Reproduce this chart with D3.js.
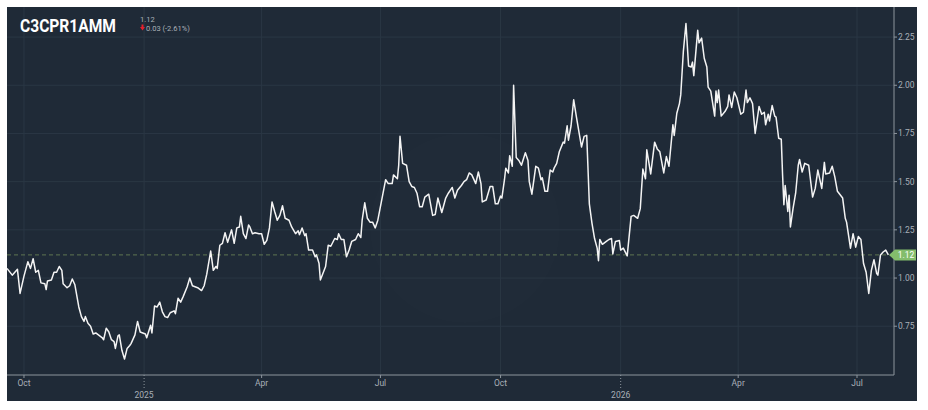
<!DOCTYPE html>
<html>
<head>
<meta charset="utf-8">
<script src="https://cdn.jsdelivr.net/npm/d3@7/dist/d3.min.js"></script>
<style>
html, body { margin: 0; padding: 0; background: #fff; }
svg { display: block; font-family: Roboto, "DejaVu Sans", sans-serif; }
</style>
</head>
<body>
<svg id="chart" width="928" height="410"></svg>
<script>
// series: day offset from startDate, and value
const startDate = new Date(2024, 8, 18);
const days = [
  0,4,6,8,10,13,16,18,20,22,24,26,29,30,31,34,36,38,40,42,43,46,48,50,52,55,57,59,60,62,64,66,68,70,73,74,76,78,80,82,83,85,86,88,90,92,94,95,98,100,102,104,106,107,110,111,113,115,117,119,121,123,125,128,129,131,133,135,138,140,142,144,146,149,151,153,154,
  156,158,160,161,163,165,167,169,172,174,176,178,179,181,183,185,186,188,190,193,195,197,199,201,203,205,207,209,211,213,216,218,221,223,224,226,228,229,231,234,236,237,239,240,242,244,246,248,251,253,254,256,258,260,262,264,267,269,271,272,274,276,278,280,282,284,287,290,292,295,296,299,300,301,303,306,308,310,312,314,316,
  318,320,323,326,328,330,333,336,338,341,343,345,348,350,352,354,356,359,361,363,364,367,370,372,374,376,378,379,381,382,384,385,387,388,390,392,394,397,399,400,402,405,407,409,410,412,414,416,418,419,421,423,426,427,429,430,432,434,436,438,440,442,444,446,448,450,452,453,454,456,459,461,463,464,466,469,470,
  472,475,478,480,483,485,487,489,490,493,496,498,500,503,505,507,510,511,513,515,516,518,520,522,524,525,526,529,530,532,534,536,537,539,542,543,544,545,547,550,552,553,555,557,559,562,564,566,567,569,571,573,576,578,580,581,583,584,586,588,589,591,593,594,595,596,598,599,600,602,604,606,607,609,611,614,617,619,621,624,626,627,630,632,634,636,640,642,643,646,648,650,652,654,656,658,660,662,664,666,667,669,671,673,675
];
const values = [
  1.05,1.015,1.03,1.045,0.92,1.01,1.085,1.05,1.10,1.03,1.04,0.975,0.97,0.94,0.985,0.99,1.03,1.03,1.06,1.04,0.97,0.95,0.96,0.995,0.965,0.85,0.80,0.775,0.80,0.765,0.75,0.71,0.715,0.705,0.69,0.68,0.74,0.72,0.68,0.67,0.635,0.70,0.705,0.625,0.58,0.635,0.65,0.66,0.705,0.775,0.72,0.715,0.71,0.69,0.755,0.715,0.855,0.85,0.875,0.825,0.80,0.795,0.82,0.83,0.815,0.895,0.875,0.905,0.955,1.00,0.96,0.955,0.95,0.935,0.96,1.02,1.06,
  1.14,1.04,1.06,1.05,1.17,1.18,1.235,1.185,1.25,1.18,1.26,1.265,1.32,1.23,1.205,1.275,1.265,1.23,1.235,1.23,1.23,1.175,1.195,1.26,1.395,1.345,1.30,1.325,1.375,1.31,1.30,1.265,1.23,1.245,1.225,1.26,1.22,1.23,1.145,1.145,1.11,1.12,1.075,0.99,1.025,1.06,1.17,1.165,1.205,1.20,1.23,1.20,1.20,1.11,1.145,1.19,1.20,1.23,1.21,1.30,1.39,1.31,1.29,1.29,1.26,1.30,1.405,1.51,1.49,1.49,1.535,1.515,1.585,1.735,1.595,1.585,1.50,1.475,1.47,1.44,1.37,
  1.37,1.42,1.435,1.325,1.33,1.415,1.34,1.415,1.44,1.47,1.415,1.455,1.48,1.50,1.51,1.545,1.535,1.49,1.55,1.49,1.395,1.405,1.475,1.475,1.385,1.385,1.425,1.415,1.51,1.57,1.545,1.635,1.58,2.00,1.625,1.61,1.585,1.65,1.61,1.50,1.435,1.58,1.57,1.51,1.52,1.45,1.45,1.56,1.55,1.57,1.595,1.655,1.705,1.70,1.79,1.715,1.79,1.925,1.84,1.76,1.68,1.735,1.74,1.385,1.285,1.205,1.155,1.09,1.20,1.175,1.19,1.20,1.205,1.125,1.19,1.195,1.145,
  1.155,1.115,1.32,1.325,1.31,1.36,1.565,1.515,1.665,1.54,1.705,1.67,1.655,1.545,1.63,1.58,1.795,1.74,1.855,1.905,1.95,2.175,2.32,2.10,2.095,2.12,2.05,2.285,2.22,2.245,2.14,2.095,1.99,1.97,1.84,1.97,1.91,1.975,1.84,1.865,1.89,1.95,1.885,1.965,1.935,1.85,1.86,1.975,1.91,1.935,1.905,1.75,1.89,1.85,1.86,1.795,1.85,1.815,1.895,1.84,1.835,1.725,1.72,1.535,1.38,1.48,1.345,1.43,1.265,1.36,1.44,1.585,1.615,1.55,1.595,1.585,1.42,1.465,1.56,1.465,1.60,1.54,1.545,1.58,1.525,1.45,1.415,1.31,1.29,1.155,1.23,1.16,1.215,1.20,1.075,1.03,0.92,1.04,1.095,1.025,1.015,1.12,1.135,1.145,1.12
];
const yTicks = [0.75, 1.00, 1.25, 1.50, 1.75, 2.00, 2.25];
const symbol = "C3CPR1AMM";
const lastValue = 1.12;
const changeText = "0.03 (-2.61%)";

const data = days.map((d, i) => ({ date: d3.timeDay.offset(startDate, d), value: values[i] }));

const svg = d3.select("#chart");
const plotLeft = 7, plotRight = 894, plotTop = 7, plotBottom = 375;

// background panel
svg.append("rect")
  .attr("x", 7).attr("y", 7).attr("width", 910).attr("height", 394)
  .attr("fill", "#1f2a37");

const x = d3.scaleTime()
  .domain([startDate, new Date(2026, 6, 29, 8)])
  .range([plotLeft, plotRight]);
const y = d3.scaleLinear()
  .domain([0.497, 2.406])
  .range([plotBottom, plotTop]);

// faint watermark
svg.append("circle")
  .attr("cx", 465).attr("cy", 228).attr("r", 95)
  .attr("fill", "#ffffff").attr("opacity", 0.007);

// grid
const quarters = x.ticks(d3.timeMonth.every(3));
svg.append("g").selectAll("line").data(yTicks).join("line")
  .attr("x1", plotLeft).attr("x2", plotRight)
  .attr("y1", d => y(d)).attr("y2", d => y(d))
  .attr("stroke", "#2a3744").attr("stroke-width", 1);
svg.append("g").selectAll("line").data(quarters).join("line")
  .attr("x1", d => x(d)).attr("x2", d => x(d))
  .attr("y1", plotTop).attr("y2", plotBottom)
  .attr("stroke", "#2a3744").attr("stroke-width", 1);

// last value dashed line
svg.append("line")
  .attr("x1", plotLeft).attr("x2", 889)
  .attr("y1", y(lastValue)).attr("y2", y(lastValue))
  .attr("stroke", "#5e7552").attr("stroke-width", 1)
  .attr("stroke-dasharray", "4,3");

// price line
svg.append("clipPath").attr("id", "clip")
  .append("rect").attr("x", plotLeft).attr("y", plotTop)
  .attr("width", plotRight - plotLeft).attr("height", plotBottom - plotTop);
svg.append("path")
  .datum(data)
  .attr("clip-path", "url(#clip)")
  .attr("fill", "none")
  .attr("stroke", "#f4f4f4")
  .attr("stroke-width", 1.5)
  .attr("stroke-linejoin", "round")
  .attr("d", d3.line().x(d => x(d.date)).y(d => y(d.value)));

// right axis
const yAxis = svg.append("g").attr("transform", `translate(${plotRight},0)`);
yAxis.append("line").attr("x1", 0).attr("x2", 0).attr("y1", plotTop).attr("y2", plotBottom)
  .attr("stroke", "#8d959d");
const yt = yAxis.selectAll("g.t").data(yTicks).join("g").attr("class", "t")
  .attr("transform", d => `translate(0,${y(d)})`);
yt.append("line").attr("x1", 0).attr("x2", 3).attr("stroke", "#8d959d");
yt.append("text").attr("x", 4).attr("dy", "0.35em")
  .attr("font-size", 8.5).attr("fill", "#a9b0b8")
  .text(d => d3.format(".2f")(d));

// bottom axis
const xAxis = svg.append("g");
xAxis.append("line").attr("x1", plotLeft).attr("x2", plotRight).attr("y1", plotBottom).attr("y2", plotBottom)
  .attr("stroke", "#8d959d");
quarters.forEach(d => {
  const isYear = d.getMonth() === 0;
  xAxis.append("line")
    .attr("x1", x(d)).attr("x2", x(d))
    .attr("y1", plotBottom).attr("y2", isYear ? plotBottom + 13 : plotBottom + 3)
    .attr("stroke", "#8d959d")
    .attr("stroke-dasharray", isYear ? "1,2" : null);
  xAxis.append("text")
    .attr("x", x(d)).attr("y", isYear ? 398 : 386)
    .attr("text-anchor", "middle")
    .attr("font-size", 8.5).attr("fill", "#a9b0b8")
    .text(isYear ? d3.timeFormat("%Y")(d) : d3.timeFormat("%b")(d));
});

// last value label
const ly = y(lastValue);
svg.append("path")
  .attr("d", `M889,${ly} L895,${ly - 5.5} L916,${ly - 5.5} L916,${ly + 5.5} L895,${ly + 5.5} Z`)
  .attr("fill", "#84bd6c");
svg.append("text")
  .attr("x", 906).attr("y", ly).attr("dy", "0.35em")
  .attr("text-anchor", "middle")
  .attr("font-size", 8.5).attr("fill", "#ffffff")
  .text(d3.format(".2f")(lastValue));

// header
svg.append("text")
  .attr("x", 20).attr("y", 32)
  .attr("font-size", 18).attr("font-weight", "bold").attr("fill", "#ffffff")
  .attr("textLength", 96).attr("lengthAdjust", "spacingAndGlyphs")
  .text(symbol);
svg.append("text")
  .attr("x", 140).attr("y", 22)
  .attr("font-size", 7.5).attr("fill", "#aab1b8")
  .text(d3.format(".2f")(lastValue));
svg.append("path")
  .attr("d", "M141.5,24.5 L143.5,24.5 L143.5,27 L145,27 L142.5,30.5 L140,27 L141.5,27 Z")
  .attr("fill", "#e3202c");
svg.append("text")
  .attr("x", 146).attr("y", 30.5)
  .attr("font-size", 7.5).attr("fill", "#aab1b8")
  .text(changeText);
</script>
</body>
</html>
